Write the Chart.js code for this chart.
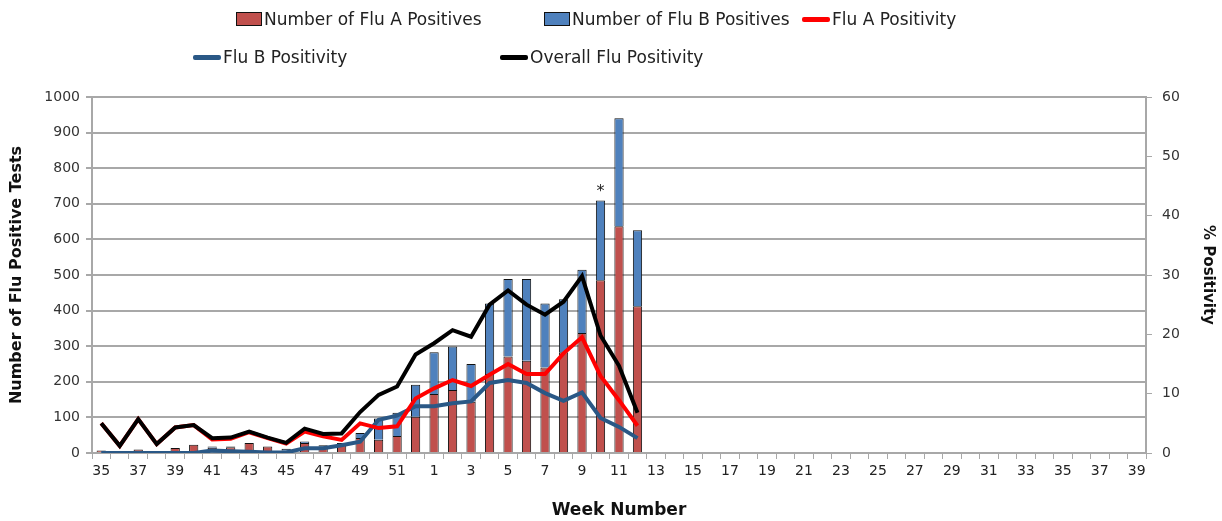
<!DOCTYPE html>
<html>
<head>
<meta charset="utf-8">
<script src="https://cdn.jsdelivr.net/npm/chart.js@4"></script>
<style>
  body { margin: 0; background: #fff; }
  #wrap { position: relative; width: 1222px; height: 521px; }
  #legend { position: absolute; left: 0; top: 0; width: 1222px; height: 80px; font-family: "DejaVu Sans", sans-serif; font-size: 17px; color: #222; }
  .item { position: absolute; display: flex; align-items: center; height: 20px; white-space: nowrap; }
  .box { width: 24px; height: 12px; border: 1px solid #111; margin-right: 2px; }
  .line { width: 28px; height: 5px; border-radius: 2px; margin-right: 2px; }
</style>
</head>
<body>
<div id="wrap">
  <canvas id="fluChart" width="1222" height="521"></canvas>
  <div id="legend"></div>
</div>
<script>
// weeks 35..52 then 1..39
const weeks = [35, 36, 37, 38, 39, 40, 41, 42, 43, 44, 45, 46, 47, 48, 49, 50, 51, 52,
  1, 2, 3, 4, 5, 6, 7, 8, 9, 10, 11, 12, 13, 14, 15, 16, 17, 18, 19, 20, 21, 22, 23, 24, 25,
  26, 27, 28, 29, 30, 31, 32, 33, 34, 35, 36, 37, 38, 39];

const fluA = [7, 0, 10, 0, 14, 23, 15, 16, 28, 18, 6, 28, 18, 22, 42, 37, 48, 102,
  166, 177, 144, 222, 271, 259, 240, 283, 337, 485, 637, 412];
const fluB = [0, 0, 0, 0, 0, 0, 3, 2, 0, 0, 6, 4, 4, 6, 14, 60, 65, 90,
  117, 122, 106, 198, 218, 230, 180, 149, 178, 224, 303, 214];

const fluAPos = [5.0, 1.2, 5.7, 1.5, 4.3, 4.7, 2.3, 2.4, 3.5, 2.5, 1.6, 3.6, 2.8, 2.2, 5.0, 4.2, 4.5, 9.2,
  10.9, 12.3, 11.3, 13.2, 15.0, 13.3, 13.3, 16.8, 19.5, 13.0, 8.9, 4.6];
const fluBPos = [0, 0, 0, 0, 0, 0, 0.4, 0.3, 0.2, 0.1, 0.1, 0.8, 0.8, 1.3, 1.9, 5.6, 6.3, 7.9,
  7.9, 8.4, 8.7, 11.8, 12.3, 11.8, 10.1, 8.8, 10.2, 5.9, 4.4, 2.5];
const overallPos = [5.0, 1.2, 5.7, 1.5, 4.3, 4.7, 2.5, 2.6, 3.6, 2.6, 1.7, 4.1, 3.2, 3.3, 6.9, 9.8, 11.2, 16.6,
  18.5, 20.7, 19.6, 25.0, 27.4, 25.0, 23.3, 25.5, 29.8, 19.8, 14.7, 6.8];

const countTicks = [0, 100, 200, 300, 400, 500, 600, 700, 800, 900, 1000];
const pctTicks = [0, 10, 20, 30, 40, 50, 60];

// the flagged week (asterisk above its bar)
const flaggedWeekIndex = 27;

const gridGrey = '#a8a8a8';
const tickFont = { family: 'DejaVu Sans', size: 14 };

const datasets = [
  { type: 'bar', label: 'Number of Flu A Positives', data: fluA, backgroundColor: '#c0504d',
    borderColor: '#111', borderWidth: 1, yAxisID: 'y', stack: 'tests', order: 3,
    barPercentage: 0.5, categoryPercentage: 1 },
  { type: 'bar', label: 'Number of Flu B Positives', data: fluB, backgroundColor: '#4f81bd',
    borderColor: '#111', borderWidth: 1, yAxisID: 'y', stack: 'tests', order: 4,
    barPercentage: 0.5, categoryPercentage: 1 },
  { type: 'line', label: 'Flu A Positivity', data: fluAPos, borderColor: '#ff0000',
    borderWidth: 4, pointRadius: 0, yAxisID: 'y1', order: 1, tension: 0 },
  { type: 'line', label: 'Flu B Positivity', data: fluBPos, borderColor: '#2a5886',
    borderWidth: 4, pointRadius: 0, yAxisID: 'y1', order: 2, tension: 0 },
  { type: 'line', label: 'Overall Flu Positivity', data: overallPos, borderColor: '#000000',
    borderWidth: 4, pointRadius: 0, yAxisID: 'y1', order: 0, tension: 0 }
];

// legend laid out like the original (two rows)
const legendSpots = [[236, 9], [544, 9], [802, 9], [193, 47], [500, 47]];
const legend = document.getElementById('legend');
datasets.forEach((ds, i) => {
  const div = document.createElement('div');
  div.className = 'item';
  div.style.left = legendSpots[i][0] + 'px';
  div.style.top = legendSpots[i][1] + 'px';
  const mark = document.createElement('span');
  if (ds.type === 'bar') {
    mark.className = 'box';
    mark.style.background = ds.backgroundColor;
  } else {
    mark.className = 'line';
    mark.style.background = ds.borderColor;
  }
  div.appendChild(mark);
  div.appendChild(document.createTextNode(ds.label));
  legend.appendChild(div);
});

const asteriskPlugin = {
  id: 'asterisk',
  afterDatasetsDraw(chart) {
    const bar = chart.getDatasetMeta(1).data[flaggedWeekIndex];
    if (!bar) return;
    const ctx = chart.ctx;
    ctx.save();
    ctx.font = '16px "DejaVu Sans"';
    ctx.fillStyle = '#222';
    ctx.textAlign = 'center';
    ctx.textBaseline = 'bottom';
    ctx.fillText('*', bar.x, bar.y - 1);
    ctx.restore();
  }
};

new Chart(document.getElementById('fluChart'), {
  data: { labels: weeks, datasets: datasets },
  plugins: [asteriskPlugin],
  options: {
    responsive: false,
    animation: false,
    layout: { padding: { top: 97, left: 0, right: 0, bottom: 0 } },
    plugins: { legend: { display: false }, tooltip: { enabled: false } },
    scales: {
      x: {
        stacked: true,
        offset: true,
        grid: { display: true, drawOnChartArea: false, offset: true, tickLength: 6, color: gridGrey, lineWidth: 1 },
        border: { color: gridGrey, width: 2 },
        ticks: {
          autoSkip: false, maxRotation: 0, minRotation: 0, padding: 4,
          color: '#222', font: tickFont,
          callback: function(val, idx) { return idx % 2 === 0 ? this.getLabelForValue(val) : ''; }
        },
        title: { display: true, text: 'Week Number', color: '#111',
          font: { family: 'DejaVu Sans', size: 17, weight: 'bold' }, padding: { top: 0, bottom: 0 } },
        afterFit: s => { s.height = 68; }
      },
      y: {
        stacked: true,
        position: 'left',
        min: 0, max: 1000,
        afterBuildTicks: s => { s.ticks = countTicks.map(v => ({ value: v })); },
        grid: { color: gridGrey, lineWidth: 2, tickLength: 6 },
        border: { color: gridGrey, width: 2 },
        ticks: { color: '#333', font: tickFont, padding: 6, callback: v => String(v) },
        title: { display: true, text: 'Number of Flu Positive Tests', color: '#111',
          font: { family: 'DejaVu Sans', size: 16, weight: 'bold' }, padding: { top: 7, bottom: 0 } },
        afterFit: s => { s.width = 92; }
      },
      y1: {
        stacked: false,
        position: 'right',
        min: 0, max: 60,
        afterBuildTicks: s => { s.ticks = pctTicks.map(v => ({ value: v })); },
        grid: { drawOnChartArea: false, color: gridGrey, lineWidth: 1, tickLength: 6 },
        border: { color: gridGrey, width: 2 },
        ticks: { color: '#333', font: tickFont, padding: 10, callback: v => String(v) },
        title: { display: true, text: '% Positivity', color: '#111',
          font: { family: 'DejaVu Sans', size: 15, weight: 'bold' }, padding: { top: 5, bottom: 5 } },
        afterFit: s => { s.width = 76; }
      }
    }
  }
});
</script>
</body>
</html>
